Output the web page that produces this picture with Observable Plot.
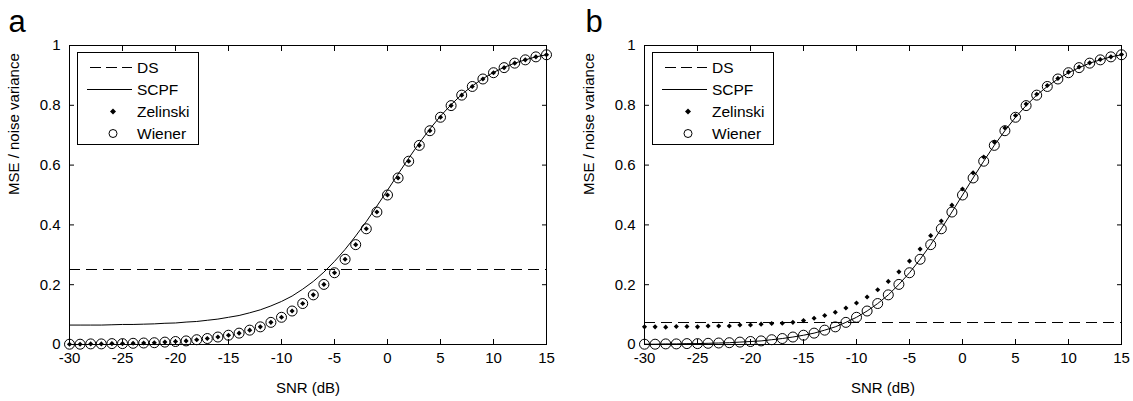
<!DOCTYPE html>
<html>
<head>
<meta charset="utf-8">
<script src="https://cdn.jsdelivr.net/npm/d3@7"></script>
<script src="https://cdn.jsdelivr.net/npm/@observablehq/plot@0.6"></script>
<style>
  body { margin: 0; background: #fff; }
  #wrap { position: relative; width: 1133px; height: 401px; font-family: "Liberation Sans", Arial, sans-serif; overflow: hidden; }
  .panel { position: absolute; top: 0; }
  .legend { position: absolute; top: 52px; width: 122px; height: 93px; }
</style>
</head>
<body>
<div id="wrap"></div>
<script>
// ---- data ----
const snr = [-30,-29,-28,-27,-26,-25,-24,-23,-22,-21,-20,-19,-18,-17,-16,-15,-14,-13,-12,-11,-10,-9,-8,-7,-6,-5,-4,-3,-2,-1,0,1,2,3,4,5,6,7,8,9,10,11,12,13,14,15];
const xTicks = [-30,-25,-20,-15,-10,-5,0,5,10,15];
const yTicks = [0,0.2,0.4,0.6,0.8,1];
const legendLabels = ["DS","SCPF","Zelinski","Wiener"];
const panelLetters = ["a","b"];

// panel a
const dsA = [0.25];
const scpfA = [0.065,0.065,0.065,0.065,0.066,0.067,0.067,0.068,0.069,0.071,0.072,0.075,0.077,0.081,0.085,0.091,0.097,0.106,0.116,0.129,0.144,0.162,0.185,0.211,0.242,0.278,0.318,0.363,0.411,0.463,0.516,0.570,0.623,0.674,0.721,0.764,0.802,0.836,0.865,0.889,0.910,0.927,0.941,0.952,0.962,0.969];
const zelinskiA = [0.001,0.001,0.002,0.002,0.003,0.003,0.004,0.005,0.006,0.008,0.010,0.012,0.016,0.020,0.025,0.031,0.038,0.048,0.059,0.074,0.091,0.112,0.137,0.166,0.201,0.240,0.285,0.334,0.387,0.443,0.500,0.557,0.613,0.666,0.715,0.760,0.799,0.834,0.863,0.888,0.909,0.926,0.941,0.952,0.962,0.969];
const wienerA = [0.001,0.001,0.002,0.002,0.003,0.003,0.004,0.005,0.006,0.008,0.010,0.012,0.016,0.020,0.025,0.031,0.038,0.048,0.059,0.074,0.091,0.112,0.137,0.166,0.201,0.240,0.285,0.334,0.387,0.443,0.500,0.557,0.613,0.666,0.715,0.760,0.799,0.834,0.863,0.888,0.909,0.926,0.941,0.952,0.962,0.969];

// panel b
const dsB = [0.075];
const scpfB = [0.001,0.001,0.002,0.002,0.003,0.003,0.004,0.005,0.006,0.008,0.010,0.012,0.016,0.020,0.025,0.031,0.038,0.048,0.059,0.074,0.091,0.112,0.137,0.166,0.201,0.240,0.285,0.334,0.387,0.443,0.500,0.557,0.613,0.666,0.715,0.760,0.799,0.834,0.863,0.888,0.909,0.926,0.941,0.952,0.962,0.969];
const zelinskiB = [0.059,0.059,0.058,0.060,0.060,0.059,0.062,0.062,0.062,0.065,0.065,0.068,0.070,0.071,0.074,0.080,0.088,0.097,0.108,0.122,0.139,0.159,0.183,0.211,0.243,0.279,0.319,0.364,0.413,0.466,0.520,0.574,0.627,0.677,0.724,0.766,0.804,0.837,0.866,0.890,0.911,0.928,0.942,0.953,0.962,0.970];
const wienerB = [0.001,0.001,0.002,0.002,0.003,0.003,0.004,0.005,0.006,0.008,0.010,0.012,0.016,0.020,0.025,0.031,0.038,0.048,0.059,0.074,0.091,0.112,0.137,0.166,0.201,0.240,0.285,0.334,0.387,0.443,0.500,0.557,0.613,0.666,0.715,0.760,0.799,0.834,0.863,0.888,0.909,0.926,0.941,0.952,0.962,0.969];

// ---- drawing ----
const FONT = "'Liberation Sans', Arial, sans-serif";
const wrap = document.getElementById("wrap");

function makePanel({letter, ds, scpf, zel, wien, left, width, marginRight, letterDx}) {
  const chart = Plot.plot({
    width, height: 401,
    marginLeft: 69, marginRight, marginTop: 45, marginBottom: 57,
    style: {fontFamily: FONT, fontSize: "15px", color: "#000", background: "transparent"},
    x: {domain: [-30, 15]},
    y: {domain: [0, 1]},
    marks: [
      Plot.ruleY(ds, {y: d => d, stroke: "#000", strokeWidth: 1, strokeDasharray: "11,6", shapeRendering: "crispEdges"}),
      Plot.line(snr, {x: d => d, y: (d, i) => scpf[i], stroke: "#000", strokeWidth: 1}),
      Plot.dot(snr, {x: d => d, y: (d, i) => wien[i], r: 5, stroke: "#000", strokeWidth: 1, fill: "none"}),
      Plot.dot(snr, {x: d => d, y: (d, i) => zel[i], r: 2.3, symbol: "diamond2", fill: "#000", stroke: "none"}),
      Plot.frame({stroke: "#000", strokeWidth: 1, shapeRendering: "crispEdges"}),
      Plot.axisX({ticks: xTicks, tickSize: -5, tickPadding: 13, tickFormat: d => String(d), label: null, fontSize: 15}),
      Plot.axisX({anchor: "top", ticks: xTicks, tickSize: -5, tickFormat: () => "", label: null}),
      Plot.axisY({ticks: yTicks, tickSize: -5, tickPadding: 14, tickFormat: d => String(d), label: null, fontSize: 15}),
      Plot.axisY({anchor: "right", ticks: yTicks, tickSize: -5, tickFormat: () => "", label: null}),
      Plot.text(["SNR (dB)"], {text: d => d, frameAnchor: "bottom", dy: 38, lineAnchor: "top", fontSize: 15}),
      Plot.text(["MSE / noise variance"], {text: d => d, frameAnchor: "left", dx: -55, rotate: -90, lineAnchor: "middle", fontSize: 15}),
      Plot.text([letter], {text: d => d, frameAnchor: "top-left", dx: letterDx, dy: -14, textAnchor: "start", lineAnchor: "bottom", fontSize: 31})
    ]
  });
  chart.classList.add("panel");
  chart.style.left = left + "px";
  wrap.appendChild(chart);

  // legend box (MATLAB-style, inside the axes at upper-left)
  const ns = "http://www.w3.org/2000/svg";
  const svg = document.createElementNS(ns, "svg");
  svg.setAttribute("width", 122); svg.setAttribute("height", 93);
  svg.setAttribute("class", "legend");
  svg.style.left = (left + 77) + "px";
  const el = (tag, attrs) => { const e = document.createElementNS(ns, tag); for (const k in attrs) e.setAttribute(k, attrs[k]); svg.appendChild(e); return e; };
  el("rect", {x: 0.5, y: 0.5, width: 121, height: 92, fill: "#fff", stroke: "#000", "stroke-width": 1});
  const ys = [15.5, 37.5, 59.5, 81.5];
  el("line", {x1: 13, x2: 55, y1: ys[0], y2: ys[0], stroke: "#000", "stroke-width": 1, "stroke-dasharray": "11,5"});
  el("line", {x1: 10, x2: 55, y1: ys[1], y2: ys[1], stroke: "#000", "stroke-width": 1});
  el("path", {d: `M36,${ys[2]-3}L39,${ys[2]}L36,${ys[2]+3}L33,${ys[2]}Z`, fill: "#000"});
  el("circle", {cx: 36, cy: ys[3], r: 4, fill: "none", stroke: "#000", "stroke-width": 1});
  legendLabels.forEach((t, i) => {
    const tx = el("text", {x: 60, y: ys[i], dy: "0.35em", "font-size": 15.5, "font-family": FONT, fill: "#000"});
    tx.textContent = t;
  });
  wrap.appendChild(svg);
}

makePanel({letter: panelLetters[0], ds: dsA, scpf: scpfA, zel: zelinskiA, wien: wienerA, left: 0, width: 575, marginRight: 29, letterDx: -61});
makePanel({letter: panelLetters[1], ds: dsB, scpf: scpfB, zel: zelinskiB, wien: wienerB, left: 575, width: 558, marginRight: 12, letterDx: -59});
</script>
</body>
</html>
